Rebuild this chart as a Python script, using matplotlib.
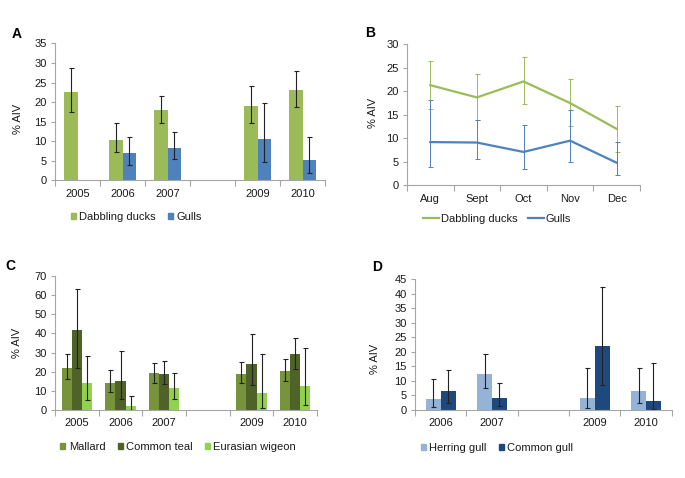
import numpy as np
import matplotlib
matplotlib.use("Agg")
import matplotlib.pyplot as plt
from matplotlib.lines import Line2D
from matplotlib.patches import Patch

plt.rcParams['font.family'] = ['Liberation Sans', 'DejaVu Sans']
plt.rcParams['font.size'] = 8

nan = np.nan
# ---- Panel A ----
years_a = ['2005', '2006', '2007', '', '2009', '2010']
ducks_a = [22.6, 10.3, 17.9, nan, 19.1, 23.2]
ducks_a_lo = [17.6, 7.2, 14.7, nan, 14.8, 18.9]
ducks_a_hi = [28.7, 14.6, 21.5, nan, 24.1, 28.0]
gulls_a = [nan, 6.9, 8.4, nan, 10.6, 5.2]
gulls_a_lo = [nan, 3.9, 5.6, nan, 4.6, 2.0]
gulls_a_hi = [nan, 11.2, 12.3, nan, 19.9, 11.2]

# ---- Panel B ----
months_b = ['Aug', 'Sept', 'Oct', 'Nov', 'Dec']
ducks_b = [21.3, 18.7, 22.1, 17.5, 12.0]
ducks_b_lo = [16.3, 14.0, 17.2, 12.6, 7.0]
ducks_b_hi = [26.4, 23.7, 27.2, 22.6, 16.95]
gulls_b = [9.2, 9.1, 7.1, 9.5, 4.8]
gulls_b_lo = [3.8, 5.5, 3.4, 5.0, 2.1]
gulls_b_hi = [18.1, 14.0, 12.8, 16.1, 9.2]

# ---- Panel C ----
years_c = ['2005', '2006', '2007', '', '2009', '2010']
mallard = [22.1, 14.3, 19.2, nan, 19.0, 20.4]
mallard_lo = [16.2, 9.2, 14.3, nan, 14.3, 15.0]
mallard_hi = [29.1, 21.1, 24.6, nan, 24.9, 26.8]
teal = [41.6, 15.3, 18.8, nan, 24.2, 29.3]
teal_lo = [21.9, 5.9, 13.4, nan, 12.9, 21.6]
teal_hi = [63.2, 30.7, 25.4, nan, 39.5, 37.8]
wigeon = [14.1, 2.1, 11.3, nan, 9.1, 12.5]
wigeon_lo = [5.4, 0.0, 5.6, nan, 1.2, 2.6]
wigeon_hi = [28.4, 7.5, 19.5, nan, 29.1, 32.2]

# ---- Panel D ----
years_d = ['2006', '2007', '', '2009', '2010']
herring = [3.7, 12.4, nan, 4.2, 6.4]
herring_lo = [1.1, 7.6, nan, 0.7, 2.3]
herring_hi = [10.5, 19.1, nan, 14.5, 14.5]
common = [6.5, 4.0, nan, 22.1, 3.0]
common_lo = [2.3, 1.3, nan, 8.6, 0.3]
common_hi = [13.9, 9.2, nan, 42.4, 16.3]

AX_COLOR = '#A6A6A6'
TXT = '#1a1a1a'

fig = plt.figure(figsize=(6.85, 4.78), dpi=100)

def style(ax, n, ymax, ystep):
    ax.set_xlim(-0.5, n - 0.5)
    ax.set_ylim(0, ymax)
    ax.set_yticks(np.arange(0, ymax + 0.01, ystep))
    for s in ['top', 'right']:
        ax.spines[s].set_visible(False)
    for s in ['left', 'bottom']:
        ax.spines[s].set_color(AX_COLOR)
        ax.spines[s].set_linewidth(0.8)
    ax.set_xticks(np.arange(n))
    ax.set_xticks(np.arange(-0.5, n, 1.0), minor=True)
    ax.tick_params(axis='x', which='major', length=0, pad=6, labelsize=8, labelcolor=TXT)
    ax.tick_params(axis='x', which='minor', length=4, color=AX_COLOR, width=0.8, direction='out')
    ax.tick_params(axis='y', length=3, color=AX_COLOR, width=0.8, direction='out', pad=3,
                   labelsize=8, labelcolor=TXT)
    ax.set_ylabel('% AIV', fontsize=8, color=TXT)

def errs(v, lo, hi):
    v = np.array(v, float); lo = np.array(lo, float); hi = np.array(hi, float)
    return np.vstack([v - lo, hi - v])

ekw = dict(fmt='none', ecolor='#222222', elinewidth=0.8, capsize=1.8, capthick=0.8)

# Panel A
axA = fig.add_axes([0.0803, 0.6224, 0.3942, 0.2866])
x = np.arange(len(years_a))
w = 0.3
axA.bar(x - w/2, ducks_a, w, color='#9BBB59')
axA.bar(x + w/2, gulls_a, w, color='#4F81BD')
axA.errorbar(x - w/2, ducks_a, yerr=errs(ducks_a, ducks_a_lo, ducks_a_hi), **ekw)
axA.errorbar(x + w/2, gulls_a, yerr=errs(gulls_a, gulls_a_lo, gulls_a_hi), **ekw)
style(axA, len(years_a), 35, 5)
axA.set_xticklabels(years_a)
axA.yaxis.set_label_coords(-0.118, 0.45)
axA.legend([Patch(color='#9BBB59'), Patch(color='#4F81BD')], ['Dabbling ducks', 'Gulls'],
           loc='center left', bbox_to_anchor=(0.0949, 0.546), bbox_transform=fig.transFigure,
           ncol=2, frameon=False, borderpad=0, handlelength=0.45, handleheight=0.45,
           handletextpad=0.3, columnspacing=1.1, fontsize=8, labelcolor=TXT)

# Panel B
axB = fig.add_axes([0.5942, 0.6123, 0.3401, 0.295])
xb = np.arange(len(months_b))
cD, cG = '#9BBB59', '#4F81BD'
axB.errorbar(xb, ducks_b, yerr=errs(ducks_b, ducks_b_lo, ducks_b_hi), fmt='none',
             ecolor=cD, elinewidth=0.7, capsize=1.8, capthick=0.7)
axB.errorbar(xb, gulls_b, yerr=errs(gulls_b, gulls_b_lo, gulls_b_hi), fmt='none',
             ecolor=cG, elinewidth=0.7, capsize=1.8, capthick=0.7)
axB.plot(xb, ducks_b, color=cD, lw=1.6)
axB.plot(xb, gulls_b, color=cG, lw=1.6)
style(axB, len(months_b), 30, 5)
axB.set_xticklabels(months_b)
axB.yaxis.set_label_coords(-0.124, 0.516)
axB.legend([Line2D([], [], color=cD, lw=1.6), Line2D([], [], color=cG, lw=1.6)],
           ['Dabbling ducks', 'Gulls'],
           loc='center left', bbox_to_anchor=(0.610, 0.542), bbox_transform=fig.transFigure,
           ncol=2, frameon=False, borderpad=0, handlelength=1.4,
           handletextpad=0.15, columnspacing=1.0, fontsize=8, labelcolor=TXT)

# Panel C
axC = fig.add_axes([0.0803, 0.1423, 0.3825, 0.2803])
xc = np.arange(len(years_c))
wc = 0.23
colsC = ['#77933C', '#4F6228', '#92D050']
axC.bar(xc - wc, mallard, wc, color=colsC[0])
axC.bar(xc, teal, wc, color=colsC[1])
axC.bar(xc + wc, wigeon, wc, color=colsC[2])
axC.errorbar(xc - wc, mallard, yerr=errs(mallard, mallard_lo, mallard_hi), **ekw)
axC.errorbar(xc, teal, yerr=errs(teal, teal_lo, teal_hi), **ekw)
axC.errorbar(xc + wc, wigeon, yerr=errs(wigeon, wigeon_lo, wigeon_hi), **ekw)
style(axC, len(years_c), 70, 10)
axC.set_xticklabels(years_c)
axC.yaxis.set_label_coords(-0.126, 0.5)
axC.legend([Patch(color=c) for c in colsC], ['Mallard', 'Common teal', 'Eurasian wigeon'],
           loc='center left', bbox_to_anchor=(0.080, 0.0649), bbox_transform=fig.transFigure,
           ncol=3, frameon=False, borderpad=0, handlelength=0.45, handleheight=0.45,
           handletextpad=0.3, columnspacing=1.1, fontsize=8, labelcolor=TXT)

# Panel D
axD = fig.add_axes([0.6058, 0.1423, 0.3747, 0.2741])
xd = np.arange(len(years_d))
wd = 0.29
colsD = ['#95B3D7', '#1F497D']
axD.bar(xd - wd/2, herring, wd, color=colsD[0])
axD.bar(xd + wd/2, common, wd, color=colsD[1])
axD.errorbar(xd - wd/2, herring, yerr=errs(herring, herring_lo, herring_hi), **ekw)
axD.errorbar(xd + wd/2, common, yerr=errs(common, common_lo, common_hi), **ekw)
style(axD, len(years_d), 45, 5)
axD.set_xticklabels(years_d)
axD.yaxis.set_label_coords(-0.136, 0.39)
axD.legend([Patch(color=c) for c in colsD], ['Herring gull', 'Common gull'],
           loc='center left', bbox_to_anchor=(0.606, 0.0628), bbox_transform=fig.transFigure,
           ncol=2, frameon=False, borderpad=0, handlelength=0.45, handleheight=0.45,
           handletextpad=0.3, columnspacing=1.1, fontsize=8, labelcolor=TXT)

# Panel letters
for lab, px, py in [('A', 12, 38), ('B', 365, 37), ('C', 5, 270), ('D', 372, 271)]:
    fig.text(px / 685, 1 - py / 478, lab, fontsize=10, fontweight='bold', va='baseline', ha='left')

fig.savefig('out.png', dpi=100)
